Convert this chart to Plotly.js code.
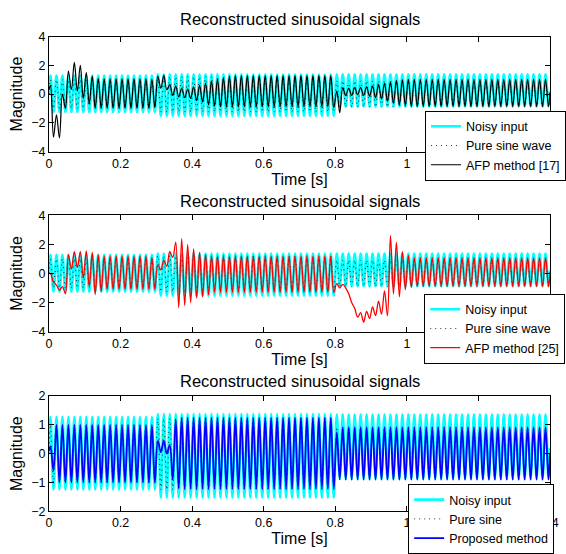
<!DOCTYPE html>
<html>
<head>
<meta charset="utf-8">
<script src="https://cdn.plot.ly/plotly-3.0.1.min.js"></script>
<style>html,body{margin:0;padding:0;background:#fff;overflow:hidden;}#chart{width:566px;height:554px;}</style>
</head>
<body>
<div id="chart"></div>
<script>
// Signal frequency counted from the picture: 12 cycles every 0.2 s
const FREQ_HZ = 60;
const T_END = 1.4;

const xTickVals = [0, 0.2, 0.4, 0.6, 0.8, 1, 1.2, 1.4];
const xTickText = ['0', '0.2', '0.4', '0.6', '0.8', '1', '1.2', '1.4'];
const yTicksWide = [-4, -2, 0, 2, 4];
const yTicksNarrow = [-2, -1, 0, 1, 2];

const panelTitle = 'Reconstructed sinusoidal signals';
const legendTop = ['Noisy input', 'Pure sine wave', 'AFP method [17]'];
const legendMid = ['Noisy input', 'Pure sine wave', 'AFP method [25]'];
const legendBot = ['Noisy input', 'Pure sine', 'Proposed method'];

// Per-cycle positive / negative extrema (one value per 1/60 s cycle, 12 cycles per row = 0.2 s)
const noisyPeaks = [
  1.28,1.28,1.28,1.28,1.28,1.28,1.28,1.28,1.28,1.28,1.28,1.28,
  1.28,1.28,1.28,1.28,1.28,1.28,1.38,1.38,1.38,1.38,1.38,1.38,
  1.38,1.38,1.38,1.38,1.38,1.38,1.38,1.38,1.38,1.38,1.38,1.38,
  1.38,1.38,1.38,1.38,1.38,1.38,1.38,1.38,1.38,1.38,1.38,1.38,
  1.37,1.37,1.37,1.37,1.37,1.37,1.37,1.37,1.37,1.37,1.37,1.37,
  1.37,1.37,1.37,1.37,1.37,1.37,1.37,1.37,1.37,1.37,1.37,1.37,
  1.37,1.37,1.37,1.37,1.37,1.37,1.37,1.37,1.37,1.37,1.37,1.37];
const noisyTroughs = [
  -1.25,-1.25,-1.25,-1.25,-1.25,-1.25,-1.25,-1.25,-1.25,-1.25,-1.25,-1.25,
  -1.25,-1.25,-1.25,-1.25,-1.25,-1.25,-1.53,-1.53,-1.53,-1.53,-1.53,-1.53,
  -1.53,-1.53,-1.53,-1.53,-1.53,-1.53,-1.53,-1.53,-1.53,-1.53,-1.53,-1.53,
  -1.53,-1.53,-1.53,-1.53,-1.53,-1.53,-1.53,-1.53,-1.53,-1.53,-1.53,-1.53,
  -0.88,-0.88,-0.88,-0.88,-0.88,-0.88,-0.88,-0.88,-0.88,-0.88,-0.88,-0.88,
  -0.88,-0.88,-0.88,-0.88,-0.88,-0.88,-0.88,-0.88,-0.88,-0.88,-0.88,-0.88,
  -0.88,-0.88,-0.88,-0.88,-0.88,-0.88,-0.88,-0.88,-0.88,-0.88,-0.88,-0.88];

const pureSinePeaks = [
  1.0,1.0,1.0,1.0,1.0,1.0,1.0,1.0,1.0,1.0,1.0,1.0,
  1.0,1.0,1.0,1.0,1.0,1.0,1.22,1.22,1.22,1.22,1.22,1.22,
  1.22,1.22,1.22,1.22,1.22,1.22,1.22,1.22,1.22,1.22,1.22,1.22,
  1.22,1.22,1.22,1.22,1.22,1.22,1.22,1.22,1.22,1.22,1.22,1.22,
  0.92,0.92,0.92,0.92,0.92,0.92,0.92,0.92,0.92,0.92,0.92,0.92,
  0.92,0.92,0.92,0.92,0.92,0.92,0.92,0.92,0.92,0.92,0.92,0.92,
  0.92,0.92,0.92,0.92,0.92,0.92,0.92,0.92,0.92,0.92,0.92,0.92];
const pureSineTroughs = [
  -1.0,-1.0,-1.0,-1.0,-1.0,-1.0,-1.0,-1.0,-1.0,-1.0,-1.0,-1.0,
  -1.0,-1.0,-1.0,-1.0,-1.0,-1.0,-1.25,-1.25,-1.25,-1.25,-1.25,-1.25,
  -1.25,-1.25,-1.25,-1.25,-1.25,-1.25,-1.25,-1.25,-1.25,-1.25,-1.25,-1.25,
  -1.25,-1.25,-1.25,-1.25,-1.25,-1.25,-1.25,-1.25,-1.25,-1.25,-1.25,-1.25,
  -0.9,-0.9,-0.9,-0.9,-0.9,-0.9,-0.9,-0.9,-0.9,-0.9,-0.9,-0.9,
  -0.9,-0.9,-0.9,-0.9,-0.9,-0.9,-0.9,-0.9,-0.9,-0.9,-0.9,-0.9,
  -0.9,-0.9,-0.9,-0.9,-0.9,-0.9,-0.9,-0.9,-0.9,-0.9,-0.9,-0.9];

const afp17Peaks = [
  0.6,-1.45,0.0,1.6,2.2,2.0,1.5,1.25,1.1,1.07,1.07,1.07,
  1.07,1.07,1.07,1.07,1.07,1.05,1.25,1.3,0.65,0.55,0.4,0.35,
  0.5,0.6,0.75,0.9,1.05,1.15,1.25,1.28,1.28,1.28,1.28,1.28,
  1.28,1.28,1.28,1.28,1.28,1.28,1.28,1.28,1.28,1.28,1.28,1.28,
  0.2,0.45,0.4,0.45,0.45,0.5,0.55,0.65,0.75,0.85,0.95,1.0,
  1.05,1.05,1.05,1.05,1.05,1.05,1.05,1.05,1.05,1.05,1.05,1.05,
  1.05,1.05,1.05,1.05,1.05,1.05,1.05,1.05,1.05,1.05,1.05,1.05];
const afp17Troughs = [
  -3.0,-3.05,-1.0,0.3,0.2,-0.3,-0.7,-1.0,-1.0,-1.0,-1.0,-1.0,
  -1.0,-1.0,-1.0,-1.0,-1.0,-0.95,0.4,0.3,-0.1,-0.2,-0.25,-0.3,
  -0.45,-0.55,-0.75,-0.85,-0.9,-0.9,-0.9,-0.9,-0.9,-0.9,-0.9,-0.9,
  -0.9,-0.9,-0.9,-0.9,-0.9,-0.9,-0.9,-0.9,-0.9,-0.9,-0.9,-0.95,
  -1.3,-0.1,-0.1,-0.05,-0.1,-0.15,-0.25,-0.35,-0.5,-0.65,-0.75,-0.8,
  -0.87,-0.87,-0.87,-0.87,-0.87,-0.87,-0.87,-0.87,-0.87,-0.87,-0.87,-0.87,
  -0.87,-0.87,-0.87,-0.87,-0.87,-0.87,-0.87,-0.87,-0.87,-0.87,-0.87,-0.87];

const afp25Peaks = [
  0.0,-0.8,-0.9,1.3,1.5,1.5,1.55,1.45,1.3,1.2,1.2,1.2,
  1.2,1.2,1.2,1.2,1.2,1.1,0.6,0.9,1.5,2.15,2.4,2.0,
  1.7,1.45,1.3,1.2,1.2,1.2,1.2,1.2,1.2,1.2,1.2,1.2,
  1.2,1.2,1.2,1.2,1.2,1.2,1.2,1.2,1.2,1.2,1.2,1.2,
  -0.7,-0.75,-1.4,-2.4,-2.7,-2.6,-2.3,-1.9,-1.2,2.6,2.15,1.5,
  1.25,1.1,1.1,1.1,1.1,1.1,1.1,1.1,1.1,1.1,1.1,1.1,
  1.1,1.1,1.1,1.1,1.1,1.1,1.1,1.1,1.1,1.1,1.1,1.1];
const afp25Troughs = [
  -0.6,-1.15,-1.4,0.3,0.4,-0.3,-0.9,-1.45,-1.25,-1.1,-1.1,-1.1,
  -1.1,-1.1,-1.1,-1.1,-1.1,-1.1,0.25,0.5,1.1,-2.35,-2.2,-2.0,
  -1.7,-1.6,-1.45,-1.3,-1.3,-1.3,-1.3,-1.3,-1.3,-1.3,-1.3,-1.3,
  -1.3,-1.3,-1.3,-1.3,-1.3,-1.3,-1.3,-1.3,-1.3,-1.3,-1.3,-1.3,
  -1.0,-1.0,-2.0,-3.0,-3.35,-3.1,-2.9,-2.8,-2.9,-1.4,-1.6,-1.1,
  -0.95,-0.9,-0.9,-0.9,-0.9,-0.9,-0.9,-0.9,-0.9,-0.9,-0.9,-0.9,
  -0.9,-0.9,-0.9,-0.9,-0.9,-0.9,-0.9,-0.9,-0.9,-0.9,-0.9,-0.9];

const proposedPeaks = [
  0.25,1.0,1.0,1.0,1.0,1.0,1.0,1.0,1.0,1.0,1.0,1.0,
  1.0,1.0,1.0,1.0,1.0,1.0,0.45,0.45,0.3,1.2,1.25,1.25,
  1.25,1.25,1.25,1.25,1.25,1.25,1.25,1.25,1.25,1.25,1.25,1.25,
  1.25,1.25,1.25,1.25,1.25,1.25,1.25,1.25,1.25,1.25,1.25,1.25,
  0.75,0.92,0.92,0.92,0.92,0.92,0.92,0.92,0.92,0.92,0.92,0.92,
  0.92,0.92,0.92,0.92,0.92,0.92,0.92,0.92,0.92,0.92,0.92,0.92,
  0.92,0.92,0.92,0.92,0.92,0.92,0.92,0.92,0.92,0.92,0.92,0.92];
const proposedTroughs = [
  -0.6,-1.0,-1.0,-1.0,-1.0,-1.0,-1.0,-1.0,-1.0,-1.0,-1.0,-1.0,
  -1.0,-1.0,-1.0,-1.0,-1.0,-1.0,0.05,0.0,-0.9,-1.2,-1.22,-1.22,
  -1.22,-1.22,-1.22,-1.22,-1.22,-1.22,-1.22,-1.22,-1.22,-1.22,-1.22,-1.22,
  -1.22,-1.22,-1.22,-1.22,-1.22,-1.22,-1.22,-1.22,-1.22,-1.22,-1.22,-1.22,
  -0.88,-0.9,-0.9,-0.9,-0.9,-0.9,-0.9,-0.9,-0.9,-0.9,-0.9,-0.9,
  -0.9,-0.9,-0.9,-0.9,-0.9,-0.9,-0.9,-0.9,-0.9,-0.9,-0.9,-0.9,
  -0.9,-0.9,-0.9,-0.9,-0.9,-0.9,-0.9,-0.9,-0.9,-0.9,-0.9,-0.9];

// Start / end values of each signal at t = 0 and t = 1.4
const startVals = {noisy: 0.0, pure: 0.0, afp17: 0.3, afp25: 0.0, proposed: 0.1};
const endVals = {noisy: 0.2, pure: 0.0, afp17: 0.1, afp25: 0.1, proposed: 0.0};

function wave(start, peaks, troughs, end) {
  const x = [0], y = [start];
  for (let k = 0; k < peaks.length; k++) {
    x.push((k + 0.25) / FREQ_HZ); y.push(peaks[k]);
    x.push((k + 0.75) / FREQ_HZ); y.push(troughs[k]);
  }
  x.push(T_END); y.push(end);
  return {x, y};
}

const FONT = 'Arial, "Liberation Sans", Helvetica, sans-serif';
const noisy = wave(startVals.noisy, noisyPeaks, noisyTroughs, endVals.noisy);
const pure = wave(startVals.pure, pureSinePeaks, pureSineTroughs, endVals.pure);
const afp17 = wave(startVals.afp17, afp17Peaks, afp17Troughs, endVals.afp17);
const afp25 = wave(startVals.afp25, afp25Peaks, afp25Troughs, endVals.afp25);
const proposed = wave(startVals.proposed, proposedPeaks, proposedTroughs, endVals.proposed);

function tr(w, name, xa, ya, leg, color, width, dash) {
  return {x: w.x, y: w.y, name: name, xaxis: xa, yaxis: ya, legend: leg, type: 'scatter', mode: 'lines',
    line: {color: color, width: width, dash: dash || 'solid', shape: 'spline', smoothing: 1}, hoverinfo: 'skip'};
}

const DOT = '1px,4px';
const data = [
  tr(noisy, legendTop[0], 'x', 'y', 'legend', '#00ffff', 2.6),
  tr(pure, legendTop[1], 'x', 'y', 'legend', '#000000', 0.8, DOT),
  tr(afp17, legendTop[2], 'x', 'y', 'legend', '#000000', 1.2),
  tr(noisy, legendMid[0], 'x2', 'y2', 'legend2', '#00ffff', 2.6),
  tr(pure, legendMid[1], 'x2', 'y2', 'legend2', '#000000', 0.8, DOT),
  tr(afp25, legendMid[2], 'x2', 'y2', 'legend2', '#ff0000', 1.3),
  tr(noisy, legendBot[0], 'x3', 'y3', 'legend3', '#00ffff', 2.6),
  tr(pure, legendBot[1], 'x3', 'y3', 'legend3', '#000000', 0.8, DOT),
  tr(proposed, legendBot[2], 'x3', 'y3', 'legend3', '#0000ff', 1.8)
];

function xax(anchor) {
  return {domain: [0, 1], anchor: anchor, range: [0, T_END], tickvals: xTickVals, ticktext: xTickText,
    ticks: 'inside', ticklen: 5, tickcolor: '#000', showline: true, linecolor: '#000', linewidth: 1, mirror: 'ticks',
    showgrid: false, zeroline: false, tickfont: {size: 12.5, family: FONT, color: '#000'},
    title: {text: 'Time [s]', font: {size: 16, family: FONT, color: '#000'}, standoff: 2}, automargin: false};
}
function yax(anchor, dom, rng, ticks) {
  return {domain: dom, anchor: anchor, range: rng, tickvals: ticks,
    ticks: 'inside', ticklen: 5, tickcolor: '#000', showline: true, linecolor: '#000', linewidth: 1, mirror: 'ticks',
    showgrid: false, zeroline: false, tickfont: {size: 12.5, family: FONT, color: '#000'},
    title: {text: 'Magnitude', font: {size: 16, family: FONT, color: '#000'}, standoff: 4}, automargin: false};
}
function leg(x, y) {
  return {x: x, y: y, xanchor: 'left', yanchor: 'top', bgcolor: '#ffffff', bordercolor: '#000', borderwidth: 1,
    font: {size: 12.5, family: FONT, color: '#000'}, itemwidth: 30, tracegroupgap: 0};
}
function ttl(y) {
  return {text: panelTitle, xref: 'paper', yref: 'paper', x: 0.5, y: y, xanchor: 'center', yanchor: 'middle',
    showarrow: false, font: {size: 16.5, family: FONT, color: '#000'}};
}

const layout = {
  width: 566, height: 554, margin: {l: 49, r: 11, t: 0, b: 0},
  paper_bgcolor: '#fff', plot_bgcolor: '#fff', showlegend: true,
  font: {family: FONT, color: '#000'},
  xaxis: xax('y'), yaxis: yax('x', [0.7215, 0.9327], [-4, 4], yTicksWide),
  xaxis2: xax('y2'), yaxis2: yax('x2', [0.3904, 0.6041], [-4, 4], yTicksWide),
  xaxis3: xax('y3'), yaxis3: yax('x3', [0.0601, 0.2720], [-2, 2], yTicksNarrow),
  legend: leg(0.751, 0.7966), legend2: leg(0.749, 0.4603), legend3: leg(0.7169, 0.1096),
  annotations: [ttl(1 - 19 / 554), ttl(1 - 204.5 / 554), ttl(1 - 387.5 / 554)]
};

Plotly.newPlot('chart', data, layout, {displayModeBar: false, staticPlot: true});
</script>
</body>
</html>
